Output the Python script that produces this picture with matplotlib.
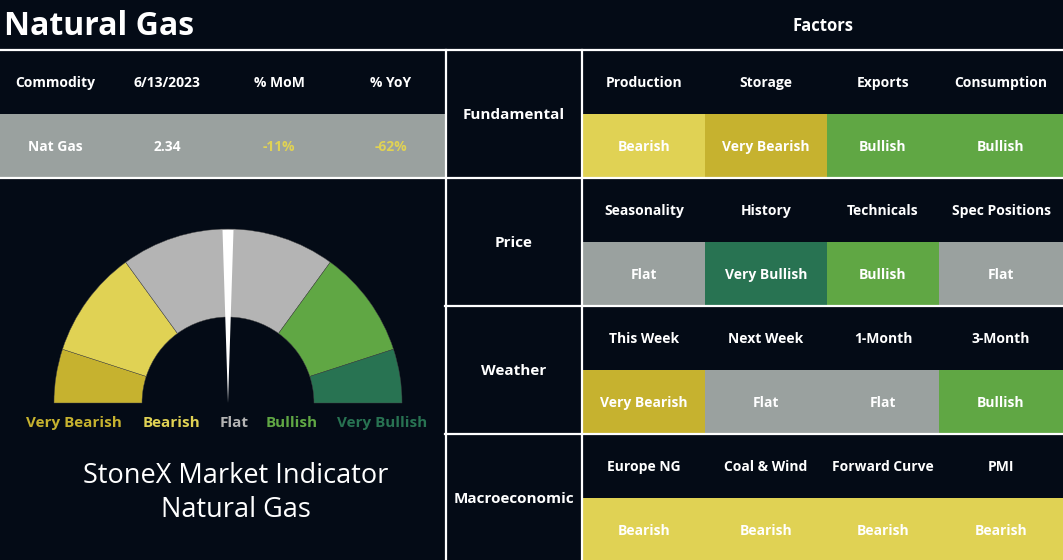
import matplotlib.pyplot as plt
import numpy as np
from matplotlib.patches import Rectangle, Wedge, Polygon

W, H = 1063, 560
BG = "#040b16"
plt.rcParams["font.family"] = ["Open Sans", "DejaVu Sans"]

# --- data ---
title = "Natural Gas"
price_cols = ["Commodity", "6/13/2023", "% MoM", "% YoY"]
price_row = ["Nat Gas", "2.34", "-11%", "-62%"]

categories = ["Fundamental", "Price", "Weather", "Macroeconomic"]
factors = [
    ["Production", "Storage", "Exports", "Consumption"],
    ["Seasonality", "History", "Technicals", "Spec Positions"],
    ["This Week", "Next Week", "1-Month", "3-Month"],
    ["Europe NG", "Coal & Wind", "Forward Curve", "PMI"],
]
signals = [
    ["Bearish", "Very Bearish", "Bullish", "Bullish"],
    ["Flat", "Very Bullish", "Bullish", "Flat"],
    ["Very Bearish", "Flat", "Flat", "Bullish"],
    ["Bearish", "Bearish", "Bearish", "Bearish"],
]

levels = ["Very Bearish", "Bearish", "Flat", "Bullish", "Very Bullish"]
level_share = [10, 20, 40, 20, 10]
needle_value = 50  # 0 = very bearish, 100 = very bullish

# --- styles ---
cell_color = {"Very Bearish": "#c6b22f", "Bearish": "#e0d254", "Flat": "#9aa19f",
              "Bullish": "#60a744", "Very Bullish": "#287352"}
gauge_color = dict(cell_color, Flat="#b4b4b4")
value_color = ["white", "white", "#e0d254", "#e0d254"]
WT = "bold"

fig = plt.figure(figsize=(W / 100, H / 100), dpi=100, facecolor=BG)
ax = fig.add_axes([0, 0, 1, 1])
ax.set_xlim(0, W)
ax.set_ylim(H, 0)
ax.axis("off")
ax.set_facecolor(BG)

# title
ax.text(4, 35, title, color="white", fontsize=23, fontweight=WT, va="baseline")
ax.text(823, 31, "Factors", color="white", fontsize=12, fontweight=WT,
        va="baseline", ha="center")

# price table
left_x = [55, 167, 279, 391]
ax.add_patch(Rectangle((0, 114), 445, 63, color="#9aa19f", lw=0))
for x, h, v, c in zip(left_x, price_cols, price_row, value_color):
    ax.text(x, 87, h, color="white", fontsize=10, fontweight=WT, ha="center", va="baseline")
    ax.text(x, 151, v, color=c, fontsize=10, fontweight=WT, ha="center", va="baseline")

# factor grid
col_edges = [583, 705, 827, 939, 1063]
for i, (cat, names, sig) in enumerate(zip(categories, factors, signals)):
    top = 50 + 128 * i
    ax.text(514, top + 69, cat, color="white", fontsize=11, fontweight=WT,
            ha="center", va="baseline")
    for j, (name, s) in enumerate(zip(names, sig)):
        x0, x1 = col_edges[j], col_edges[j + 1]
        ax.add_patch(Rectangle((x0, top + 64), x1 - x0, 63, color=cell_color[s], lw=0))
        xc = (x0 + x1) / 2
        ax.text(xc, top + 37, name, color="white", fontsize=10, fontweight=WT,
                ha="center", va="baseline")
        ax.text(xc, top + 101, s, color="white", fontsize=10, fontweight=WT,
                ha="center", va="baseline")

# grid lines
lc, lw = "white", 1.6
ax.plot([0, W], [49.5, 49.5], color=lc, lw=lw)
ax.plot([0, W], [178, 178], color=lc, lw=lw)
for y in [306, 434]:
    ax.plot([445, W], [y, y], color=lc, lw=lw)
for x in [445.5, 582]:
    ax.plot([x, x], [49.5, H], color=lc, lw=lw)

# gauge (y axis is flipped, so screen angles are negated)
cx, cy, r_out, r_in = 228, 403, 174, 86
total = sum(level_share)
start = 180.0
for lev, share in zip(levels, level_share):
    end = start - 180.0 * share / total
    ax.add_patch(Wedge((cx, cy), r_out, -start, -end, width=r_out - r_in,
                       facecolor=gauge_color[lev], edgecolor="#444444", lw=0.3))
    start = end

ang = np.radians(180 - 180 * needle_value / 100)
ux, uy = np.cos(ang), -np.sin(ang)
px, py = -uy, ux
hw = 5.5
ax.add_patch(Polygon([(cx, cy),
                      (cx + ux * 173 + px * hw, cy + uy * 173 + py * hw),
                      (cx + ux * 173 - px * hw, cy + uy * 173 - py * hw)],
                     closed=True, facecolor="white", edgecolor="none"))

label_x = [74, 171, 234, 292, 382]
for x, lev in zip(label_x, levels):
    ax.text(x, 427, lev, color=gauge_color[lev], fontsize=11, fontweight=WT,
            ha="center", va="baseline")

ax.text(236, 483, "StoneX Market Indicator", color="white", fontsize=19.5,
        ha="center", va="baseline")
ax.text(236, 517, "Natural Gas", color="white", fontsize=19.5,
        ha="center", va="baseline")

fig.savefig("out.png", dpi=100, facecolor=BG)
